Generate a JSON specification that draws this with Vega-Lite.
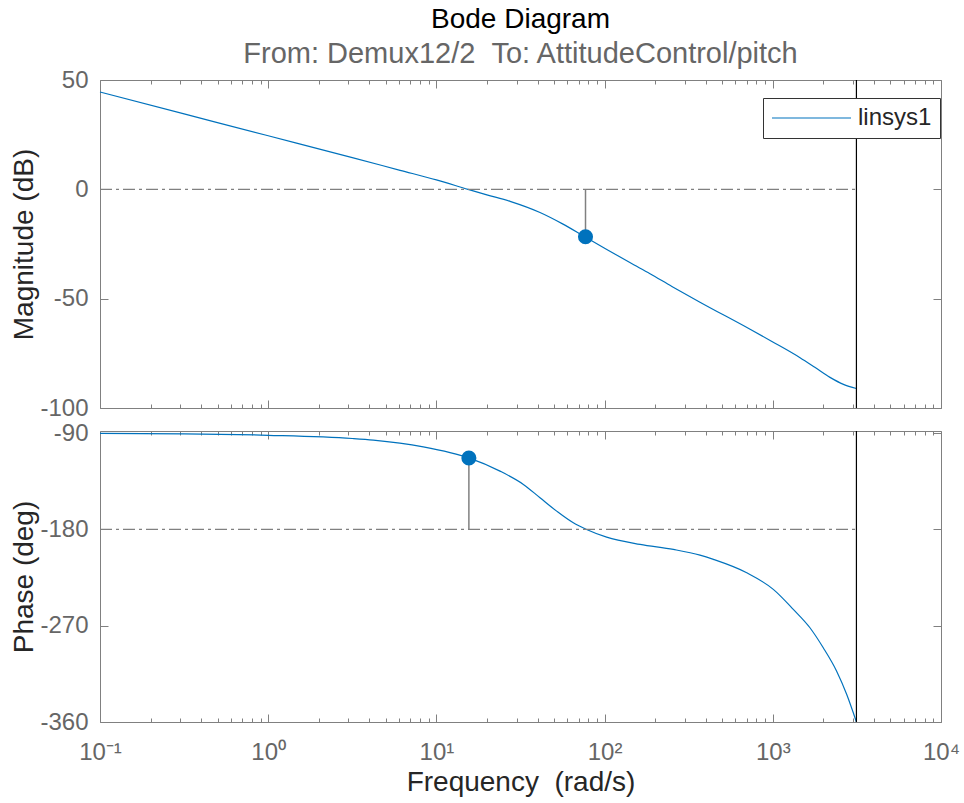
{
  "$schema": "https://vega.github.io/schema/vega-lite/v6.json",
  "padding": {"left": 10, "top": 6, "right": 5, "bottom": 3},
  "background": "white",
  "title": {
    "text": "Bode Diagram",
    "subtitle": "From: Demux12/2\u00a0\u00a0To: AttitudeControl/pitch",
    "anchor": "middle",
    "frame": "group",
    "font": "Liberation Sans, Arial, sans-serif",
    "fontSize": 28,
    "fontWeight": "normal",
    "color": "#000000",
    "subtitleFont": "Liberation Sans, Arial, sans-serif",
    "subtitleFontSize": 29,
    "subtitleColor": "#666666",
    "subtitlePadding": 6,
    "offset": -1
  },
  "config": {
    "font": "Liberation Sans, Arial, sans-serif",
    "view": {"stroke": null},
    "axis": {
      "grid": false,
      "domainColor": "#808080",
      "domainWidth": 1,
      "tickColor": "#808080",
      "tickWidth": 1,
      "labelColor": "#666666",
      "labelFont": "Liberation Sans, Arial, sans-serif",
      "labelFontSize": 24,
      "titleFont": "Liberation Sans, Arial, sans-serif",
      "titleFontSize": 28,
      "titleFontWeight": "normal",
      "titleColor": "#262626",
      "labelOverlap": false,
      "labelFlush": false,
      "minExtent": 0
    }
  },
  "datasets": {
    "mag": [
      {"freq": 0.1, "mag": 44.5},
      {"freq": 0.3162, "mag": 34.5},
      {"freq": 1, "mag": 24.5},
      {"freq": 3.162, "mag": 14.5},
      {"freq": 6.081, "mag": 8.7},
      {"freq": 10, "mag": 4.3},
      {"freq": 15.42, "mag": 0},
      {"freq": 19.95, "mag": -2.5},
      {"freq": 27.42, "mag": -5.5},
      {"freq": 41.3, "mag": -10.6},
      {"freq": 56.23, "mag": -15.8},
      {"freq": 76.38, "mag": -21.7},
      {"freq": 100, "mag": -26.9},
      {"freq": 141.3, "mag": -33.5},
      {"freq": 186.2, "mag": -38.6},
      {"freq": 251.2, "mag": -44.4},
      {"freq": 369, "mag": -51.6},
      {"freq": 732.8, "mag": -64.0},
      {"freq": 1000, "mag": -69.8},
      {"freq": 1452, "mag": -77.0},
      {"freq": 1778, "mag": -81.4},
      {"freq": 2188, "mag": -86.0},
      {"freq": 2630, "mag": -89.2},
      {"freq": 3141.6, "mag": -91.1}
    ],
    "phase": [
      {"freq": 0.1, "phase": -90.3},
      {"freq": 0.3162, "phase": -90.6},
      {"freq": 1, "phase": -92.0},
      {"freq": 3.162, "phase": -95.0},
      {"freq": 4.217, "phase": -96.5},
      {"freq": 8.356, "phase": -102.8},
      {"freq": 12.05, "phase": -108.2},
      {"freq": 15.85, "phase": -113.6},
      {"freq": 23.88, "phase": -125.5},
      {"freq": 32.89, "phase": -137.9},
      {"freq": 41.3, "phase": -150.4},
      {"freq": 51.88, "phase": -162.9},
      {"freq": 65.16, "phase": -173.8},
      {"freq": 78.16, "phase": -180.0},
      {"freq": 102.8, "phase": -187.2},
      {"freq": 162.6, "phase": -194.0},
      {"freq": 256.4, "phase": -198.7},
      {"freq": 369, "phase": -204.0},
      {"freq": 443.6, "phase": -208.0},
      {"freq": 699.8, "phase": -220.5},
      {"freq": 1007, "phase": -236.0},
      {"freq": 1324, "phase": -254.7},
      {"freq": 1663, "phase": -271.9},
      {"freq": 1995, "phase": -290.6},
      {"freq": 2393, "phase": -312.3},
      {"freq": 2748, "phase": -334.1},
      {"freq": 3141.6, "phase": -360.0}
    ],
    "magref": [{"f0": 0.1, "f1": 3141.6, "v": 0}],
    "phref": [{"f0": 0.1, "f1": 3141.6, "v": -180}],
    "gm": [{"freq": 77, "v0": 0, "v1": -21.7}],
    "pm": [{"freq": 15.6, "v0": -180, "v1": -113.2}],
    "nyq": [{"freq": 3141.6}]
  },
  "spacing": 23,
  "bounds": "flush",
  "resolve": {"scale": {"color": "independent"}, "legend": {"color": "independent"}},
  "vconcat": [
    {
      "width": 841,
      "height": 328,
      "resolve": {"axis": {"x": "independent", "y": "independent"}},
      "layer": [
        {
          "data": {"name": "mag"},
          "mark": {"type": "line", "strokeWidth": 1.2, "interpolate": "monotone"},
          "encoding": {
            "x": {"field": "freq", "type": "quantitative",
              "scale": {"type": "log", "domain": [0.1, 10000], "nice": false},
              "axis": {"orient": "bottom", "title": null, "labels": false,
                "values": [0.1,0.2,0.3,0.4,0.5,0.6,0.7,0.8,0.9,1,2,3,4,5,6,7,8,9,10,20,30,40,50,60,70,80,90,100,200,300,400,500,600,700,800,900,1000,2000,3000,4000,5000,6000,7000,8000,9000,10000],
                "tickSize": {"condition": {"test": "abs(log(datum.value)/LN10 - round(log(datum.value)/LN10)) < 0.001", "value": -8}, "value": -4}}},
            "y": {"field": "mag", "type": "quantitative",
              "scale": {"domain": [-100, 50], "nice": false, "zero": false},
              "axis": {"orient": "left", "title": "Magnitude (dB)", "values": [-100, -50, 0, 50], "labelExpr": "'' + datum.value", "tickSize": -8, "labelPadding": 20, "titlePadding": 1}},
            "color": {"datum": "linsys1", "type": "nominal", "scale": {"range": ["#0072BD"]},
              "legend": {"title": null, "orient": "none", "legendX": 663, "legendY": 18,
                "strokeColor": "#333333", "fillColor": "#ffffff", "padding": 8,
                "symbolType": "stroke", "symbolSize": 6241, "symbolStrokeWidth": 1.2, "clipHeight": 24,
                "labelFontSize": 24, "labelColor": "#262626", "labelOffset": 6}}
          }
        },
        {
          "data": {"name": "magref"},
          "mark": {"type": "rule", "color": "#808080", "strokeWidth": 1.3, "strokeDash": [12, 4, 3, 4]},
          "encoding": {
            "x": {"field": "f0", "type": "quantitative",
              "scale": {"type": "log", "domain": [0.1, 10000], "nice": false},
              "axis": {"orient": "top", "title": null, "labels": false,
                "values": [0.1,0.2,0.3,0.4,0.5,0.6,0.7,0.8,0.9,1,2,3,4,5,6,7,8,9,10,20,30,40,50,60,70,80,90,100,200,300,400,500,600,700,800,900,1000,2000,3000,4000,5000,6000,7000,8000,9000,10000],
                "tickSize": {"condition": {"test": "abs(log(datum.value)/LN10 - round(log(datum.value)/LN10)) < 0.001", "value": -8}, "value": -4}}},
            "x2": {"field": "f1"},
            "y": {"field": "v", "type": "quantitative",
              "scale": {"domain": [-100, 50], "nice": false, "zero": false},
              "axis": {"orient": "right", "title": null, "labels": false, "values": [-100, -50, 0, 50], "tickSize": -8}}
          }
        },
        {
          "data": {"name": "gm"},
          "mark": {"type": "rule", "color": "#808080", "strokeWidth": 1.5},
          "encoding": {
            "x": {"field": "freq", "type": "quantitative", "scale": {"type": "log", "domain": [0.1, 10000], "nice": false}, "axis": null},
            "y": {"field": "v0", "type": "quantitative", "scale": {"domain": [-100, 50], "nice": false, "zero": false}, "axis": null},
            "y2": {"field": "v1"}
          }
        },
        {
          "data": {"name": "gm"},
          "mark": {"type": "point", "filled": true, "opacity": 1, "color": "#0072BD", "size": 227},
          "encoding": {
            "x": {"field": "freq", "type": "quantitative", "scale": {"type": "log", "domain": [0.1, 10000], "nice": false}, "axis": null},
            "y": {"field": "v1", "type": "quantitative", "scale": {"domain": [-100, 50], "nice": false, "zero": false}, "axis": null}
          }
        },
        {
          "data": {"name": "nyq"},
          "mark": {"type": "rule", "color": "#000000", "strokeWidth": 1.2},
          "encoding": {
            "x": {"field": "freq", "type": "quantitative", "scale": {"type": "log", "domain": [0.1, 10000], "nice": false}, "axis": null}
          }
        }
      ]
    },
    {
      "width": 841,
      "height": 291,
      "resolve": {"axis": {"x": "independent", "y": "independent"}},
      "layer": [
        {
          "data": {"name": "phase"},
          "mark": {"type": "line", "color": "#0072BD", "strokeWidth": 1.2, "interpolate": "monotone"},
          "encoding": {
            "x": {"field": "freq", "type": "quantitative",
              "scale": {"type": "log", "domain": [0.1, 10000], "nice": false},
              "axis": {"orient": "bottom", "title": "Frequency\u00a0\u00a0(rad/s)", "titlePadding": 0, "labelPadding": 26,
                "values": [0.1,0.2,0.3,0.4,0.5,0.6,0.7,0.8,0.9,1,2,3,4,5,6,7,8,9,10,20,30,40,50,60,70,80,90,100,200,300,400,500,600,700,800,900,1000,2000,3000,4000,5000,6000,7000,8000,9000,10000],
                "labelExpr": "datum.value == 0.1 ? '10⁻¹' : datum.value == 1 ? '10⁰' : datum.value == 10 ? '10¹' : datum.value == 100 ? '10²' : datum.value == 1000 ? '10³' : datum.value == 10000 ? '10⁴' : ''",
                "tickSize": {"condition": {"test": "abs(log(datum.value)/LN10 - round(log(datum.value)/LN10)) < 0.001", "value": -8}, "value": -4}}},
            "y": {"field": "phase", "type": "quantitative",
              "scale": {"domain": [-360, -88], "nice": false, "zero": false},
              "axis": {"orient": "left", "title": "Phase (deg)", "values": [-360, -270, -180, -90], "labelExpr": "'' + datum.value", "tickSize": -8, "labelPadding": 20, "titlePadding": 1}}
          }
        },
        {
          "data": {"name": "phref"},
          "mark": {"type": "rule", "color": "#808080", "strokeWidth": 1.3, "strokeDash": [12, 4, 3, 4]},
          "encoding": {
            "x": {"field": "f0", "type": "quantitative",
              "scale": {"type": "log", "domain": [0.1, 10000], "nice": false},
              "axis": {"orient": "top", "title": null, "labels": false,
                "values": [0.1,0.2,0.3,0.4,0.5,0.6,0.7,0.8,0.9,1,2,3,4,5,6,7,8,9,10,20,30,40,50,60,70,80,90,100,200,300,400,500,600,700,800,900,1000,2000,3000,4000,5000,6000,7000,8000,9000,10000],
                "tickSize": {"condition": {"test": "abs(log(datum.value)/LN10 - round(log(datum.value)/LN10)) < 0.001", "value": -8}, "value": -4}}},
            "x2": {"field": "f1"},
            "y": {"field": "v", "type": "quantitative",
              "scale": {"domain": [-360, -88], "nice": false, "zero": false},
              "axis": {"orient": "right", "title": null, "labels": false, "values": [-360, -270, -180, -90], "tickSize": -8}}
          }
        },
        {
          "data": {"name": "pm"},
          "mark": {"type": "rule", "color": "#808080", "strokeWidth": 1.5},
          "encoding": {
            "x": {"field": "freq", "type": "quantitative", "scale": {"type": "log", "domain": [0.1, 10000], "nice": false}, "axis": null},
            "y": {"field": "v0", "type": "quantitative", "scale": {"domain": [-360, -88], "nice": false, "zero": false}, "axis": null},
            "y2": {"field": "v1"}
          }
        },
        {
          "data": {"name": "pm"},
          "mark": {"type": "point", "filled": true, "opacity": 1, "color": "#0072BD", "size": 227},
          "encoding": {
            "x": {"field": "freq", "type": "quantitative", "scale": {"type": "log", "domain": [0.1, 10000], "nice": false}, "axis": null},
            "y": {"field": "v1", "type": "quantitative", "scale": {"domain": [-360, -88], "nice": false, "zero": false}, "axis": null}
          }
        },
        {
          "data": {"name": "nyq"},
          "mark": {"type": "rule", "color": "#000000", "strokeWidth": 1.2},
          "encoding": {
            "x": {"field": "freq", "type": "quantitative", "scale": {"type": "log", "domain": [0.1, 10000], "nice": false}, "axis": null}
          }
        }
      ]
    }
  ]
}
